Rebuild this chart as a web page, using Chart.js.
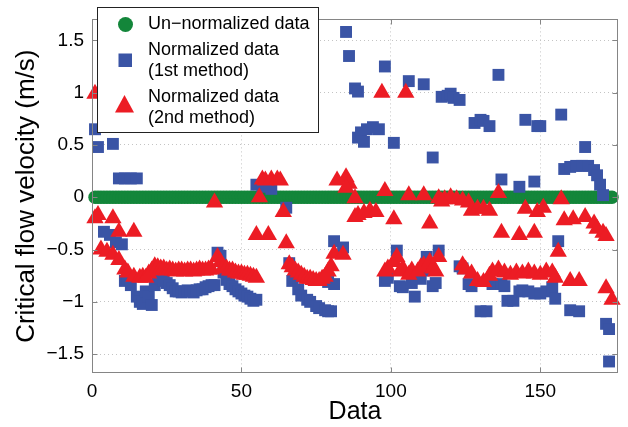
<!DOCTYPE html>
<html>
<head>
<meta charset="utf-8">
<script src="https://cdn.jsdelivr.net/npm/chart.js@4.4.0/dist/chart.umd.min.js"></script>
<style>
  html, body { margin: 0; padding: 0; background: #fff; }
  #wrap { width: 628px; height: 427px; position: relative; }
</style>
</head>
<body>
<div id="wrap"><canvas id="chart"></canvas></div>
<script>
const xTicks = [0, 50, 100, 150];
const yTicks = [-1.5, -1, -0.5, 0, 0.5, 1, 1.5];

// un-normalized data, points 1..174
const greenY = [
  0,0,0,0,0,0,0,0,0,0,0,0,0,0,0,0,0,0,0,0,0,0,0,0,0,0,0,0,0,
  0,0,0,0,0,0,0,0,0,0,0,0,0,0,0,0,0,0,0,0,0,0,0,0,0,0,0,0,0,
  0,0,0,0,0,0,0,0,0,0,0,0,0,0,0,0,0,0,0,0,0,0,0,0,0,0,0,0,0,
  0,0,0,0,0,0,0,0,0,0,0,0,0,0,0,0,0,0,0,0,0,0,0,0,0,0,0,0,0,
  0,0,0,0,0,0,0,0,0,0,0,0,0,0,0,0,0,0,0,0,0,0,0,0,0,0,0,0,0,
  0,0,0,0,0,0,0,0,0,0,0,0,0,0,0,0,0,0,0,0,0,0,0,0,0,0,0,0,0
];

// normalized, 1st method
const blueX = [1,2,7,9,11,13,15,4,6,8,10,11,12,13,15,16,17,18,19,20,21,22,23,24,25,26,27,28,29,30,
  31,32,33,34,35,36,37,38,39,40,41,42,43,44,45,46,47,48,49,50,51,52,53,54,55,55,57,60,65,66,
  67,68,69,70,72,73,75,76,78,79,80,79,81,84,81,85,86,88,89,89,90,91,92,94,96,98,101,106,111,114,
  117,119,120,121,123,128,130,131,133,136,137,143,145,148,149,150,157,158,160,162,164,165,166,168,169,170,171,
  98,99,102,103,104,107,108,110,111,112,114,115,116,123,124,126,127,130,132,134,137,138,139,141,143,144,146,148,150,152,
  154,155,156,160,163,172,173,173];
const blueY = [0.65,0.48,0.51,0.18,0.18,0.18,0.18,-0.33,-0.36,-0.43,-0.45,-0.8,-0.78,-0.84,-0.95,-1.0,-1.02,-0.9,-0.95,-1.03,-0.84,-0.78,-0.76,-0.8,-0.82,-0.84,-0.87,-0.9,-0.9,-0.91,
  -0.9,-0.89,-0.9,-0.91,-0.89,-0.88,-0.88,-0.86,-0.85,-0.84,-0.84,-0.53,-0.56,-0.72,-0.79,-0.83,-0.85,-0.88,-0.9,-0.92,-0.94,-0.95,-0.97,-0.99,-0.98,0.12,0.1,0.08,-0.1,-0.63,
  -0.8,-0.76,-0.88,-0.94,-0.98,-1.0,-1.04,-1.06,-1.08,-1.09,-1.09,-0.81,-0.42,-0.48,-0.83,1.58,1.35,1.04,1.01,0.57,0.62,0.53,0.65,0.67,0.65,1.25,0.52,1.11,1.08,0.38,
  0.96,0.97,0.99,0.95,0.93,0.71,0.74,0.73,0.68,1.17,0.17,0.1,0.74,0.15,0.68,0.68,0.79,0.27,0.29,0.3,0.3,0.48,0.3,0.26,0.21,0.12,0.02,
  -0.8,-0.77,-0.51,-0.85,-0.86,-0.82,-0.95,-0.78,-0.7,-0.57,-0.85,-0.82,-0.51,-0.66,-0.68,-0.83,-0.85,-1.09,-1.09,-0.83,-0.83,-0.85,-0.99,-0.99,-0.9,-0.89,-0.9,-0.92,-0.92,-0.9,
  -0.86,-0.97,-0.42,-1.08,-1.09,-1.21,-1.26,-1.57];

// normalized, 2nd method
const redX = [1,1,2,7,9,14,3,5,7,9,11,12,14,16,17,18,19,20,21,22,23,24,25,26,27,28,29,30,31,32,
  33,34,35,36,37,38,39,40,41,42,43,44,45,46,47,48,49,50,51,52,53,54,55,55,56,57,59,58,60,62,
  63,64,65,66,67,68,69,70,71,72,73,74,75,76,77,78,79,80,81,84,82,85,86,85,88,88,89,91,93,95,
  97,98,101,98,99,101,102,103,104,106,107,109,110,111,113,114,115,116,105,106,111,113,116,118,120,122,124,126,117,127,
  129,131,133,136,137,143,145,148,149,151,157,158,161,165,168,169,171,172,124,125,127,129,131,133,134,136,138,140,142,144,
  146,148,150,152,154,155,156,160,163,172,174];
const redY = [0.99,-0.2,-0.17,-0.2,-0.33,-0.33,-0.5,-0.52,-0.55,-0.6,-0.69,-0.72,-0.76,-0.77,-0.76,-0.77,-0.73,-0.7,-0.66,-0.67,-0.68,-0.68,-0.7,-0.69,-0.7,-0.71,-0.7,-0.7,-0.71,-0.7,
  -0.7,-0.71,-0.7,-0.69,-0.7,-0.7,-0.69,-0.69,-0.05,-0.57,-0.62,-0.67,-0.68,-0.7,-0.7,-0.72,-0.73,-0.73,-0.74,-0.74,-0.75,-0.76,-0.77,-0.36,0.0,0.17,-0.36,0.16,0.17,0.17,
  0.16,-0.14,-0.44,-0.64,-0.67,-0.7,-0.72,-0.74,-0.76,-0.78,-0.78,-0.79,-0.8,-0.8,-0.78,-0.76,-0.71,-0.66,-0.54,-0.55,0.16,0.19,0.13,0.09,-0.01,-0.19,-0.17,-0.15,-0.13,-0.14,
  1.0,0.06,-0.21,-0.71,-0.68,-0.62,-0.57,-0.71,-0.68,-0.74,-0.7,-0.71,-0.67,-0.65,-0.62,-0.68,-0.71,-0.57,1.0,0.02,0.02,-0.25,-0.01,-0.02,0.0,-0.02,-0.03,-0.05,-0.04,-0.13,
  -0.11,-0.11,-0.13,0.04,-0.34,-0.36,-0.11,-0.34,-0.14,-0.1,-0.02,-0.22,-0.21,-0.19,-0.25,-0.3,-0.34,-0.37,-0.65,-0.69,-0.73,-0.8,-0.81,-0.75,-0.71,-0.69,-0.72,-0.74,-0.72,-0.73,
  -0.71,-0.73,-0.74,-0.71,-0.72,-0.77,-0.52,-0.8,-0.8,-0.87,-0.98];

const legendLines = [['Un\u2212normalized data'], ['Normalized data', '(1st method)'], ['Normalized data', '(2nd method)']];

const GREEN = '#13863a', BLUE = '#3a54a5', RED = '#ec1c24';
const FONT = '"Liberation Sans", Arial, Helvetica, sans-serif';
const AXIS = '#858585';

const pts = (xs, ys) => xs.map((x, i) => ({x: x, y: ys[i]}));
const minus = v => String(v).replace('-', '\u2212');

// box, inside ticks and the legend, drawn over the markers
const framePlugin = {
  id: 'frame',
  afterDatasetsDraw(chart){
    const {ctx, chartArea: a, scales: {x, y}} = chart;
    const L = Math.round(a.left) + .5, R = Math.round(a.right) - .5;
    const T = Math.round(a.top) + .5, B = Math.round(a.bottom) - .5;
    ctx.save();
    ctx.strokeStyle = AXIS; ctx.lineWidth = 1;
    ctx.strokeRect(L, T, R - L, B - T);
    ctx.beginPath();
    yTicks.forEach(v => {
      const py = Math.round(y.getPixelForValue(v)) + .5;
      ctx.moveTo(L, py); ctx.lineTo(L + 5, py);
      ctx.moveTo(R, py); ctx.lineTo(R - 5, py);
    });
    xTicks.forEach(v => {
      const px = Math.round(x.getPixelForValue(v)) + .5;
      ctx.moveTo(px, B); ctx.lineTo(px, B - 5);
      ctx.moveTo(px, T); ctx.lineTo(px, T + 5);
    });
    ctx.stroke();

    // legend
    ctx.fillStyle = '#fff'; ctx.fillRect(97.5, 7.5, 221, 125);
    ctx.strokeStyle = '#222'; ctx.strokeRect(97.5, 7.5, 221, 125);
    ctx.fillStyle = GREEN; ctx.beginPath(); ctx.arc(125.5, 24.5, 7.5, 0, Math.PI * 2); ctx.fill();
    ctx.fillStyle = BLUE; ctx.fillRect(118.5, 53.5, 13.5, 13.5);
    ctx.fillStyle = RED; ctx.beginPath();
    ctx.moveTo(124.5, 95); ctx.lineTo(134, 112.5); ctx.lineTo(115, 112.5); ctx.closePath(); ctx.fill();
    ctx.fillStyle = '#000'; ctx.font = '18px ' + FONT;
    ctx.textBaseline = 'middle'; ctx.textAlign = 'left';
    const rows = [[24.5], [50, 71.5], [97, 118.5]];
    legendLines.forEach((lines, i) => lines.forEach((t, j) => ctx.fillText(t, 148, rows[i][j])));
    ctx.restore();
  }
};

new Chart(document.getElementById('chart'), {
  type: 'scatter',
  data: {
    datasets: [
      {label: legendLines[2].join(' '), data: pts(redX, redY), order: 1, clip: false,
        pointStyle: 'triangle', pointRadius: 10, pointHoverRadius: 10, pointBackgroundColor: RED, pointBorderWidth: 0},
      {label: legendLines[1].join(' '), data: pts(blueX, blueY), order: 2, clip: false,
        pointStyle: 'rect', pointRadius: 8.4, pointHoverRadius: 8.4, pointBackgroundColor: BLUE, pointBorderWidth: 0},
      {label: legendLines[0][0], data: greenY.map((v, i) => ({x: i + 1, y: v})), order: 3, clip: false,
        pointStyle: 'circle', pointRadius: 6.7, pointHoverRadius: 6.7, pointBackgroundColor: GREEN, pointBorderWidth: 0}
    ]
  },
  options: {
    responsive: true, maintainAspectRatio: false, animation: false, events: [],
    layout: {padding: {left: 0, right: 7, top: 4, bottom: 0}},
    plugins: {legend: {display: false}, tooltip: {enabled: false}},
    scales: {
      x: {
        type: 'linear', position: 'bottom', min: 0, max: 176,
        afterBuildTicks: s => { s.ticks = xTicks.map(v => ({value: v})); },
        afterFit: s => { s.height = 54; },
        grid: {color: '#c4c4c4', lineWidth: 1, drawTicks: false},
        border: {display: false, dash: [1, 3]},
        ticks: {color: '#000', font: {family: FONT, size: 19}, padding: 7, maxRotation: 0, autoSkip: false, callback: minus},
        title: {display: true, text: 'Data', color: '#000', font: {family: FONT, size: 25}, padding: {top: 0, bottom: 0}}
      },
      y: {
        min: -1.68, max: 1.7,
        afterBuildTicks: s => { s.ticks = yTicks.map(v => ({value: v})); },
        afterFit: s => { s.width = 92; },
        grid: {color: '#c4c4c4', lineWidth: 1, drawTicks: false},
        border: {display: false, dash: [1, 3]},
        ticks: {color: '#000', font: {family: FONT, size: 19}, padding: 8, autoSkip: false, callback: minus},
        title: {display: true, text: 'Critical flow velocity (m/s)', color: '#000', font: {family: FONT, size: 26}, padding: {top: 11, bottom: 0}}
      }
    }
  },
  plugins: [framePlugin]
});
</script>
</body>
</html>
